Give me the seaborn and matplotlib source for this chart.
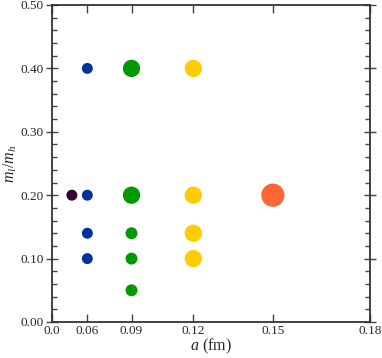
import numpy as np
import pandas as pd
import matplotlib
matplotlib.use("Agg")
import matplotlib.pyplot as plt
import seaborn as sns
from matplotlib.ticker import MultipleLocator, FixedLocator, FormatStrFormatter

# data
a_fm = [0.045, 0.06, 0.06, 0.06, 0.06, 0.09, 0.09, 0.09, 0.09, 0.09,
        0.12, 0.12, 0.12, 0.12, 0.15]
ml_mh = [0.20, 0.40, 0.20, 0.14, 0.10, 0.40, 0.20, 0.14, 0.10, 0.05,
         0.40, 0.20, 0.14, 0.10, 0.20]
ensemble = ["a045", "a06", "a06", "a06", "a06", "a09", "a09", "a09", "a09", "a09",
            "a12", "a12", "a12", "a12", "a15"]
vol = ["s", "s", "s", "s", "s", "l", "l", "m", "m", "m",
       "l", "l", "l", "l", "xl"]
palette = {"a045": "#330033", "a06": "#003399", "a09": "#009900",
           "a12": "#ffcc00", "a15": "#ff6633"}
sizes = {"s": 62, "m": 74, "l": 155, "xl": 280}
xticks = [0.0, 0.06, 0.09, 0.12, 0.15, 0.18]
xticklabels = ["0.0", "0.06", "0.09", "0.12", "0.15", "0.18"]

df = pd.DataFrame({"a": a_fm, "r": ml_mh, "ens": ensemble, "vol": vol})

sns.set_style("ticks")
plt.rcParams["font.family"] = ["Liberation Serif", "DejaVu Serif"]
plt.rcParams["mathtext.fontset"] = "custom"
plt.rcParams["mathtext.it"] = "Liberation Serif:italic"
plt.rcParams["mathtext.rm"] = "Liberation Serif"

fig = plt.figure(figsize=(3.82, 3.58), dpi=100)
ax = fig.add_axes([52/382, 1 - 322/358, 318/382, 317/358])

ax.set_xscale("function", functions=(lambda x: np.sign(x) * x**2,
                                     lambda x: np.sqrt(np.abs(x))))
sns.scatterplot(data=df, x="a", y="r", hue="ens", palette=palette,
                size="vol", sizes=sizes, linewidth=0, legend=False, ax=ax,
                zorder=3)

ax.set_xlim(0, 0.18)
ax.set_ylim(0, 0.5)
ax.xaxis.set_major_locator(FixedLocator(xticks))
ax.set_xticklabels(xticklabels)
ax.xaxis.set_minor_locator(FixedLocator([]))
ax.yaxis.set_major_locator(MultipleLocator(0.1))
ax.yaxis.set_minor_locator(MultipleLocator(0.02))
ax.yaxis.set_major_formatter(FormatStrFormatter("%.2f"))

for s in ax.spines.values():
    s.set_linewidth(1.3)
    s.set_color("#333333")
ax.tick_params(which="both", direction="in", top=True, right=True,
               color="#444444", labelsize=9.5, pad=2)
ax.tick_params(which="major", length=6, width=1)
ax.tick_params(which="minor", length=3.5, width=1)
ax.tick_params(axis="y", which="major", direction="inout", length=8)

ax.set_xlabel(r"$a$ (fm)", fontsize=11.5, labelpad=0)
ax.set_ylabel(r"$m_l/m_h$", fontsize=11.5, labelpad=1)

fig.savefig("out.png", dpi=100)
